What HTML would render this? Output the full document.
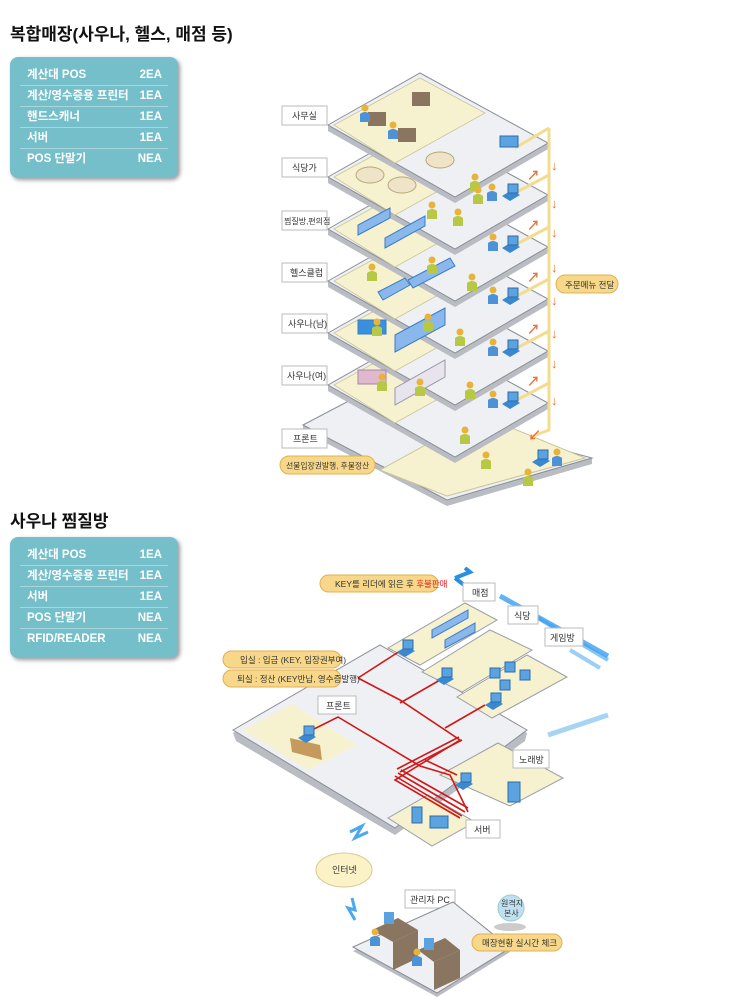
<!DOCTYPE html>
<html><head><meta charset="utf-8"><style>
body{margin:0;background:#fff;width:730px;height:997px;overflow:hidden;position:relative;font-family:"Liberation Sans","Noto Sans CJK KR",sans-serif}
.t{position:absolute;left:10px;font-size:17px;font-weight:bold;color:#111}
.box{position:absolute;left:10px;width:168px;background:#74bfc9;border-radius:8px;box-shadow:2px 2px 4px #999;padding:8px 10px;box-sizing:border-box}
.row{display:flex;justify-content:space-between;color:#fff;font-size:11.5px;font-weight:bold;height:20px;line-height:20px;border-bottom:1px solid #a8d8de;padding:0 6px 0 7px}
.row:last-child{border-bottom:none}
svg{position:absolute;left:0;top:0}
</style></head><body>
<div class="t" style="top:20px">복합매장(사우나, 헬스, 매점 등)</div>
<div class="box" style="top:57px;height:121px">
<div class="row"><span>계산대 POS</span><span>2EA</span></div>
<div class="row"><span>계산/영수증용 프린터</span><span>1EA</span></div>
<div class="row"><span>핸드스캐너</span><span>1EA</span></div>
<div class="row"><span>서버</span><span>1EA</span></div>
<div class="row"><span>POS 단말기</span><span>NEA</span></div>
</div>
<div class="t" style="top:507px">사우나 찜질방</div>
<div class="box" style="top:537px;height:121px">
<div class="row"><span>계산대 POS</span><span>1EA</span></div>
<div class="row"><span>계산/영수증용 프린터</span><span>1EA</span></div>
<div class="row"><span>서버</span><span>1EA</span></div>
<div class="row"><span>POS 단말기</span><span>NEA</span></div>
<div class="row"><span>RFID/READER</span><span>NEA</span></div>
</div>
<svg width="730" height="997" font-family="Liberation Sans, Noto Sans CJK KR, sans-serif">
<defs>
<g id="fl">
<polygon points="328,125 420,73 548,143 548,149 455,203 328,131" fill="#b9bcc2"/>
<polygon points="328,125 420,73 548,143 455,197" fill="#eef0f4" stroke="#8a8e96" stroke-width="1"/>
<polygon points="334,125 420,78 485,113 395,163" fill="#f6f2d0" stroke="#c9c59a" stroke-width="0.8"/>
</g>
<g id="pp"><circle cx="0" cy="-8" r="3.5" fill="#e8b33a"/><path d="M-5,6 L-5,-2 Q0,-6 5,-2 L5,6Z" fill="#b7c944"/></g>
<g id="pb"><circle cx="0" cy="-8" r="3.5" fill="#e8b33a"/><path d="M-5,6 L-5,-2 Q0,-6 5,-2 L5,6Z" fill="#4d92d6"/></g>
<g id="pos"><polygon points="0,0 10,-6 18,-1 8,5" fill="#3b88d0"/><rect x="6" y="-12" width="10" height="9" fill="#5aa3e0" stroke="#2c6ea8"/></g>
</defs>
<polygon points="303,425 360,395 592,458 592,464 447,506 303,431" fill="#b9bcc2"/>
<polygon points="303,425 360,395 592,458 447,500" fill="#eef0f4" stroke="#8a8e96"/>
<polygon points="380,470 480,415 585,458 447,496" fill="#f6f2d0" stroke="#c9c59a"/>
<use href="#fl" y="260"/><use href="#fl" y="208"/><use href="#fl" y="156"/><use href="#fl" y="104"/><use href="#fl" y="52"/><use href="#fl" y="0"/>
<g stroke="#f3dc8e" stroke-width="3" fill="none">
<path d="M549,128 L549,430 L530,437"/>
<path d="M549,128 L515,148"/><path d="M549,175 L515,193"/><path d="M549,227 L515,245"/><path d="M549,279 L515,297"/><path d="M549,331 L515,349"/><path d="M549,383 L515,401"/>
</g>
<g fill="#e8703a" font-size="13" font-weight="bold">
<text x="551" y="170">↓</text><text x="551" y="208">↓</text><text x="551" y="237">↓</text><text x="551" y="272">↓</text><text x="551" y="305">↓</text><text x="551" y="338">↓</text><text x="551" y="368">↓</text><text x="551" y="405">↓</text>
<text x="527" y="180">↗</text><text x="527" y="230">↗</text><text x="527" y="282">↗</text><text x="527" y="334">↗</text><text x="527" y="386">↗</text><text x="528" y="440">↙</text>
</g>
<use href="#pos" x="502" y="196"/><use href="#pos" x="502" y="248"/><use href="#pos" x="502" y="300"/><use href="#pos" x="502" y="352"/><use href="#pos" x="502" y="404"/><use href="#pos" x="532" y="462"/>
<rect x="500" y="136" width="18" height="11" fill="#5aa3e0" stroke="#2c6ea8"/>
<g fill="#8a7560"><rect x="368" y="112" width="18" height="14"/><rect x="398" y="128" width="18" height="14"/><rect x="412" y="92" width="18" height="14"/></g>
<g fill="#efe4c8" stroke="#b9a77a"><ellipse cx="370" cy="175" rx="14" ry="8"/><ellipse cx="402" cy="185" rx="14" ry="8"/><ellipse cx="440" cy="160" rx="14" ry="8"/></g>
<g fill="#8ab8ec" stroke="#3b7cc4"><polygon points="358,235 390,218 390,208 358,225"/><polygon points="385,248 425,226 425,216 385,238"/>
<polygon points="378,292 405,278 410,285 383,300"/><polygon points="408,280 450,258 455,266 413,288"/><rect x="358" y="320" width="28" height="14" fill="#3990dc"/><polygon points="395,335 445,308 445,325 395,352"/></g>
<g fill="#e0b8d0" stroke="#a888a0"><rect x="358" y="370" width="28" height="14"/></g>
<g fill="#e8e4ee" stroke="#9a96a8"><polygon points="395,388 445,360 445,377 395,405"/></g>
<use href="#pp" x="432" y="213"/><use href="#pp" x="458" y="220"/><use href="#pp" x="475" y="185"/><use href="#pp" x="478" y="198"/><use href="#pp" x="372" y="275"/><use href="#pp" x="432" y="268"/><use href="#pp" x="472" y="285"/><use href="#pp" x="377" y="330"/><use href="#pp" x="428" y="325"/><use href="#pp" x="460" y="340"/><use href="#pp" x="382" y="385"/><use href="#pp" x="420" y="390"/><use href="#pp" x="470" y="393"/><use href="#pp" x="465" y="438"/><use href="#pp" x="486" y="463"/><use href="#pp" x="528" y="480"/>
<use href="#pb" x="492" y="195"/><use href="#pb" x="493" y="245"/><use href="#pb" x="493" y="298"/><use href="#pb" x="493" y="350"/><use href="#pb" x="493" y="402"/><use href="#pb" x="557" y="460"/><use href="#pb" x="365" y="116"/><use href="#pb" x="393" y="133"/>
<g font-size="9" fill="#333">
<g fill="#fff" stroke="#bbb"><rect x="282" y="106" width="45" height="19"/><rect x="282" y="158" width="45" height="19"/><rect x="282" y="211" width="45" height="19"/><rect x="282" y="263" width="45" height="19"/><rect x="282" y="314" width="45" height="19"/><rect x="282" y="366" width="45" height="19"/><rect x="282" y="429" width="45" height="19"/></g>
<text x="292" y="119">사무실</text><text x="292" y="171">식당가</text><text x="284" y="224" font-size="8">찜질방,편의점</text><text x="290" y="276">헬스클럽</text><text x="288" y="327">사우나(남)</text><text x="287" y="379">사우나(여)</text><text x="293" y="442">프론트</text>
<rect x="280" y="456" width="95" height="18" rx="9" fill="#f7d88a" stroke="#e0b050"/><text x="286" y="468.5" font-size="7.8">선불입장권발행, 후불정산</text>
<rect x="556" y="275" width="62" height="18" rx="9" fill="#f7d88a" stroke="#e0b050"/><text x="565" y="288" font-size="8.5">주문메뉴 전달</text>
</g>
<path d="M455,578 L470,572 L465,568 M455,578 L468,588" stroke="#2a8fe0" stroke-width="4" fill="none"/>
<path d="M500,596 L608,656" stroke="#3aa0f0" stroke-width="5" opacity="0.8"/><path d="M538,618 L608,660" stroke="#3aa0f0" stroke-width="4" opacity="0.6"/><path d="M570,650 L600,668" stroke="#3aa0f0" stroke-width="4" opacity="0.5"/><path d="M548,735 L608,715" stroke="#a8d4f4" stroke-width="5"/>
<polygon points="233,733 380,648 527,733 525,741 395,835 236,741" fill="#b9bcc2"/>
<polygon points="233,730 380,645 527,730 395,828" fill="#eef0f4" stroke="#8a8e96"/>
<polygon points="388,648 465,603 497,620 420,665" fill="#f6f2d0" stroke="#9a9ea6"/>
<polygon points="422,672 490,630 532,650 462,692" fill="#f6f2d0" stroke="#9a9ea6"/>
<polygon points="457,697 527,655 567,677 492,718" fill="#f6f2d0" stroke="#9a9ea6"/>
<polygon points="440,775 498,743 563,778 510,806" fill="#f6f2d0" stroke="#9a9ea6"/>
<polygon points="388,818 428,795 475,822 432,846" fill="#f6f2d0" stroke="#9a9ea6"/>
<polygon points="243,730 292,704 357,745 308,770" fill="#f6f2d0"/>
<polygon points="290,738 320,745 322,760 292,752" fill="#c59a5c"/>
<g stroke="#d01818" stroke-width="1.6" fill="none">
<path d="M306,733 L338,717 L420,766 L450,775 L468,812"/><path d="M358,678 L400,700 L460,740 L395,780 L460,818"/><path d="M400,703 L440,680"/><path d="M445,728 L485,705"/>
<path d="M395,776 L462,816"/><path d="M398,773 L465,812"/><path d="M401,770 L468,808"/><path d="M462,740 L400,772"/><path d="M459,737 L397,769"/><path d="M425,760 L457,775"/><path d="M400,651 L358,678"/>
</g>
<use href="#pos" x="397" y="652"/><use href="#pos" x="436" y="680"/><use href="#pos" x="485" y="705"/><use href="#pos" x="455" y="785"/><use href="#pos" x="298" y="738"/>
<g fill="#5aa3e0" stroke="#2c6ea8"><rect x="430" y="816" width="18" height="12"/><rect x="412" y="807" width="10" height="16"/><rect x="508" y="782" width="12" height="20"/><rect x="490" y="668" width="10" height="10"/><rect x="505" y="662" width="10" height="10"/><rect x="520" y="670" width="10" height="10"/><rect x="500" y="680" width="10" height="10"/></g>
<g fill="#8ab8ec" stroke="#3b7cc4"><polygon points="432,630 468,610 468,618 432,638"/><polygon points="445,640 475,623 475,632 445,648"/></g>
<g fill="#fff" stroke="#bbb" font-size="9"><rect x="463" y="583" width="32" height="18"/><rect x="508" y="606" width="30" height="18"/><rect x="545" y="628" width="38" height="18"/><rect x="318" y="696" width="38" height="18"/><rect x="513" y="750" width="36" height="18"/><rect x="466" y="820" width="34" height="18"/><rect x="405" y="890" width="50" height="18"/></g>
<g font-size="9" fill="#333"><text x="472" y="596">매점</text><text x="514" y="619">식당</text><text x="550" y="641">게임방</text><text x="326" y="709">프론트</text><text x="519" y="763">노래방</text><text x="474" y="833">서버</text><text x="410" y="903">관리자 PC</text></g>
<g font-size="8.5" fill="#333">
<rect x="320" y="575" width="118" height="17" rx="8.5" fill="#f7d88a" stroke="#e0b050"/><text x="335" y="587">KEY를 리더에 읽은 후 <tspan fill="#e02020">후불판매</tspan></text>
<rect x="223" y="651" width="118" height="17" rx="8.5" fill="#f7d88a" stroke="#e0b050"/><text x="240" y="663">입실 : 입금 (KEY, 입장권부여)</text>
<rect x="223" y="670" width="118" height="17" rx="8.5" fill="#f7d88a" stroke="#e0b050"/><text x="237" y="682">퇴실 : 정산 (KEY반납, 영수증발행)</text>
</g>
<path d="M350,832 L362,826 L355,838 L368,832" stroke="#4aa8f0" stroke-width="3" fill="none"/>
<path d="M352,898 L355,910 L348,908 L355,920" stroke="#4aa8f0" stroke-width="3" fill="none"/>
<ellipse cx="344" cy="870" rx="28" ry="17" fill="#fbf2c8" stroke="#d8c890"/><text x="332" y="873" font-size="9" fill="#333">인터넷</text>
<polygon points="353,947 453,902 510,948 437,993" fill="#b9bcc2" transform="translate(0,4)"/>
<polygon points="353,947 453,902 510,948 437,993" fill="#eef0f4" stroke="#8a8e96"/>
<g fill="#8a7560"><polygon points="372,930 398,918 418,930 393,942"/><polygon points="393,942 418,930 418,958 393,970"/><polygon points="418,950 445,938 460,950 434,962"/><polygon points="434,962 460,950 460,978 434,990"/></g>
<use href="#pb" x="375" y="940"/><use href="#pb" x="417" y="960"/>
<rect x="384" y="912" width="10" height="12" fill="#5aa3e0"/><rect x="424" y="938" width="10" height="12" fill="#5aa3e0"/>
<ellipse cx="510" cy="927" rx="16" ry="4" fill="#ccc"/>
<circle cx="511" cy="908" r="13" fill="#bfe0f0" stroke="#9cc"/><text x="501" y="906" font-size="8" fill="#333">원격지</text><text x="504" y="916" font-size="8" fill="#333">본사</text>
<rect x="472" y="934" width="90" height="17" rx="8.5" fill="#f7d88a" stroke="#e0b050"/><text x="482" y="946" font-size="8.5" fill="#333">매장현황 실시간 체크</text>
</svg>
</body></html>
